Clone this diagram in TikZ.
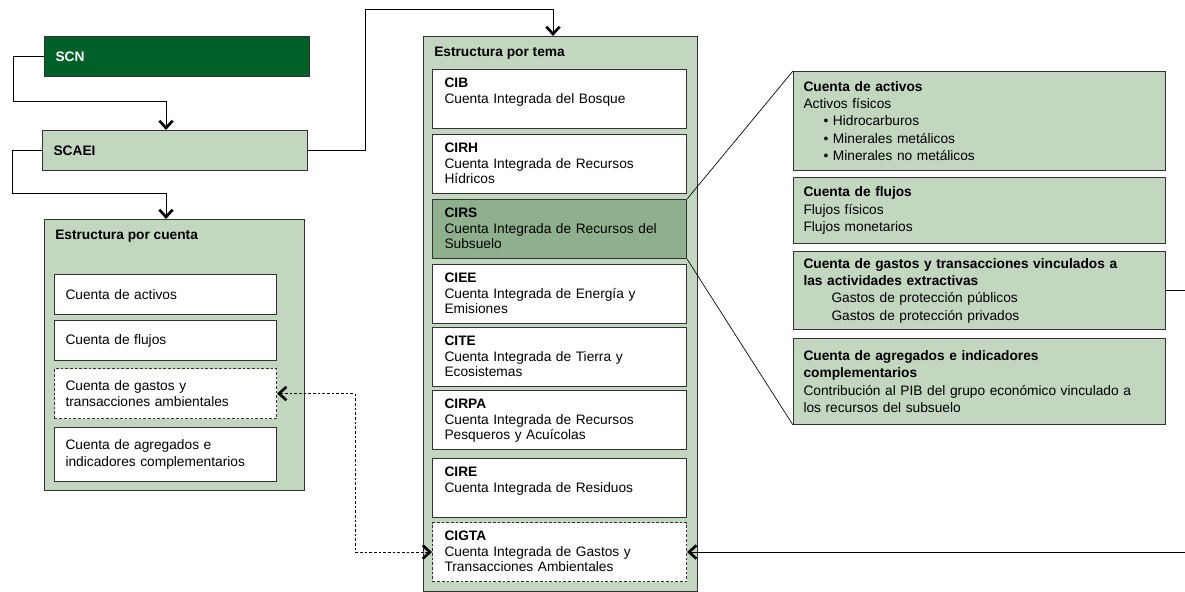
\documentclass[tikz,border=0pt]{standalone}
\usepackage{fontspec}
\setmainfont{Liberation Sans}
\usepackage{tikz}
\usetikzlibrary{arrows.meta}

\definecolor{verdeoscuro}{RGB}{0,97,40}
\definecolor{verdeclaro}{RGB}{194,214,192}
\definecolor{verdemedio}{RGB}{143,176,140}
\definecolor{borde}{RGB}{50,50,50}

\tikzset{
    caja/.style={draw=borde,line width=0.8pt,anchor=north west,align=left,font=\fontsize{10.3}{11.6}\selectfont},
    panel/.style={caja,fill=verdeclaro},
    sistema/.style={caja,fill=verdeclaro,minimum width=199pt,minimum height=30pt,text width=182.5pt,inner xsep=8.25pt,font=\fontsize{10.3}{11.6}\selectfont\bfseries},
    cuenta/.style={caja,fill=white,text width=150pt,inner xsep=8.25pt,font=\fontsize{10.3}{12.5}\selectfont},
    tema/.style={caja,fill=white,text width=172.5pt,inner xsep=9pt,inner ysep=3pt,text height=10.5pt,text depth=27.75pt},
    detalle/.style={caja,fill=verdeclaro,text width=264pt,inner xsep=7.5pt,font=\fontsize{10.3}{13}\selectfont},
    titulo/.style={anchor=base west,inner sep=0pt,font=\fontsize{10.3}{11.6}\selectfont\bfseries},
    punteado/.style={dash pattern=on 2pt off 1.5pt},
    punta/.tip={Straight Barb[length=5.5pt,width=10pt,line width=2pt]},
    flecha/.style={line width=0.75pt,-punta},
    doble/.style={line width=0.75pt,punteado,punta-punta},
    lupa/.style={line width=0.5pt}
}

\begin{document}
\begin{tikzpicture}[x=0.75pt,y=-0.75pt]
        \useasboundingbox (0,0) rectangle (1185,592);

        % 左侧系统
        \node[sistema,fill=verdeoscuro,text=white] (scn) at (44,36) {SCN};
        \node[sistema] (scaei) at (42,130) {SCAEI};

        % 按账户结构
        \node[panel,minimum width=195pt,minimum height=203.25pt] (lpanel) at (44,219) {};
        \node[titulo] (ltitulo) at (55,239) {Estructura por cuenta};
        \node[cuenta,minimum height=30pt] (cactivos) at (54,274) {Cuenta de activos};
        \node[cuenta,minimum height=30pt] (cflujos) at (54,320) {Cuenta de flujos};
        \node[cuenta,punteado,minimum height=37.5pt] (cgastos) at (54,368) {Cuenta de gastos y\\transacciones ambientales};
        \node[cuenta,minimum height=40.5pt] (cagreg) at (54,427) {Cuenta de agregados e\\indicadores complementarios};

        % 按主题结构
        \node[panel,minimum width=205.5pt,minimum height=416.25pt] (mpanel) at (423,36) {};
        \node[titulo] (mtitulo) at (434,56.5) {Estructura por tema};
        \node[tema] (cib) at (432,69) {\textbf{CIB}\\Cuenta Integrada del Bosque};
        \node[tema] (cirh) at (432,134) {\textbf{CIRH}\\Cuenta Integrada de Recursos\\Hídricos};
        \node[tema,fill=verdemedio] (cirs) at (432,199) {\textbf{CIRS}\\Cuenta Integrada de Recursos del\\Subsuelo};
        \node[tema] (ciee) at (432,264) {\textbf{CIEE}\\Cuenta Integrada de Energía y\\Emisiones};
        \node[tema] (cite) at (432,327) {\textbf{CITE}\\Cuenta Integrada de Tierra y\\Ecosistemas};
        \node[tema] (cirpa) at (432,390) {\textbf{CIRPA}\\Cuenta Integrada de Recursos\\Pesqueros y Acuícolas};
        \node[tema] (cire) at (432,458) {\textbf{CIRE}\\Cuenta Integrada de Residuos};
        \node[tema,punteado] (cigta) at (432,522) {\textbf{CIGTA}\\Cuenta Integrada de Gastos y\\Transacciones Ambientales};

        % 右侧细节
        \node[detalle,minimum height=74.25pt] (ractivos) at (793,71) {
            \textbf{Cuenta de activos}\\
            Activos físicos\\
            \hspace*{15pt}\textbullet\ Hidrocarburos\\
            \hspace*{15pt}\textbullet\ Minerales metálicos\\
            \hspace*{15pt}\textbullet\ Minerales no metálicos
        };
        \node[detalle,minimum height=49.5pt] (rflujos) at (793,177) {
            \textbf{Cuenta de flujos}\\
            Flujos físicos\\
            Flujos monetarios
        };
        \node[detalle,minimum height=58.5pt] (rgastos) at (793,251) {
            \textbf{Cuenta de gastos y transacciones vinculados a}\\
            \textbf{las actividades extractivas}\\
            \hspace*{21pt}Gastos de protección públicos\\
            \hspace*{21pt}Gastos de protección privados
        };
        \node[detalle,minimum height=64.5pt] (ragreg) at (793,338) {
            \textbf{Cuenta de agregados e indicadores}\\
            \textbf{complementarios}\\
            Contribución al PIB del grupo económico vinculado a\\
            los recursos del subsuelo
        };

        % 连接线
        \draw[flecha] (scn.west) -- ++(-31,0) |- (166,102) -- (166,102 |- scaei.north);
        \draw[flecha] (scaei.west) -- ++(-30,0) |- (166,193) -- (166,193 |- lpanel.north);
        \draw[flecha] (scaei.east) -| (365,10) -- (553,10) -- (553,10 |- mpanel.north);
        \draw[doble] (cgastos.east) -| (355,470) |- (cigta.west);
        \draw[flecha] (rgastos.east) -- ++(40,0) |- (cigta.east);
        \draw[lupa] (cirs.north east) -- (ractivos.north west);
        \draw[lupa] (cirs.south east) -- (ragreg.south west);
    \end{tikzpicture}
\end{document}
